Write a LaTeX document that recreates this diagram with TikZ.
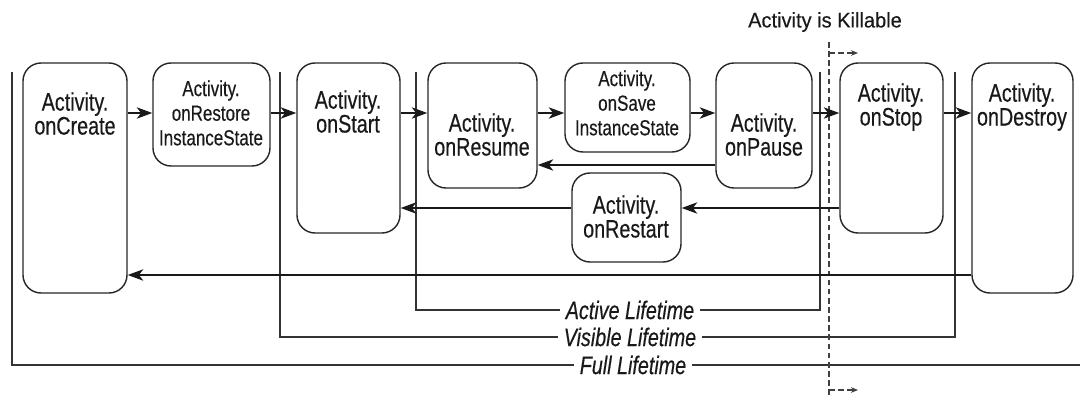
\documentclass[tikz,border=0pt]{standalone}
\usepackage{fontspec}
\setmainfont{Liberation Sans}[FakeStretch=0.78,FakeBold=0.4]
\newfontfamily\killfont{Liberation Sans}[FakeStretch=0.95,FakeBold=0.3]
\usetikzlibrary{arrows.meta,fit}

\begin{document}
\begin{tikzpicture}[x=0.025cm,y=-0.025cm,
    box/.style={draw=black!85,line width=1pt,rounded corners=0.45cm,inner sep=0pt},
    txt/.style={anchor=north,inner sep=0pt,align=center,text=black!90,font=\fontsize{18}{17}\selectfont},
    smalltxt/.style={anchor=north,inner sep=0pt,align=center,text=black!90,font=\fontsize{15.5}{17.5}\selectfont},
    flow/.style={line width=1.5pt,black!90,-{Stealth[length=11pt,width=8pt,inset=3pt]}},
    life/.style={line width=1pt,black!80},
    lifelbl/.style={fill=white,inner xsep=4pt,inner ysep=1pt,text=black!90,font=\fontsize{18}{18}\selectfont\itshape},
    kill/.style={line width=0.9pt,black!75,dash pattern=on 4pt off 2.5pt}]
    \useasboundingbox (0,0) rectangle (1080,400);

    % lifetimes
    \draw[life] (12,72) -- (12,365) -- (1080,365);
    \node[lifelbl] (Full) at (633,365) {Full Lifetime};
    \foreach \l/\r/\b/\name in {280/955/337/Visible, 416/820/310/Active} {
      \draw[life] (\l,72) -- (\l,\b) -- (\r,\b) -- (\r,72);
      \node[lifelbl] (\name) at (630,\b) {\name\ Lifetime};
    }

    % killable border
    \coordinate (killTop) at (829,42);
    \coordinate (killBot) at (829,395);
    \draw[kill] (killTop) -- (killBot);
    \draw[kill,-{Stealth[length=5pt,width=4pt]}] (829,53) -- (858,53);
    \draw[kill,-{Stealth[length=5pt,width=4pt]}] (829,390) -- (858,390);
    \node[text=black!90,font=\killfont\fontsize{15}{16}\selectfont] (killL) at (825,22) {Activity is Killable};

    % callbacks
    \node[box,fit={(23,63) (127,293)}] (create) {};
    \node[box,fit={(153,63) (270,166)}] (restore) {};
    \node[box,fit={(297,63) (400,233)}] (start) {};
    \node[box,fit={(428,63) (537,188)}] (resume) {};
    \node[box,fit={(565,63) (690,152)}] (save) {};
    \node[box,fit={(716,63) (812,188)}] (pause) {};
    \node[box,fit={(572,173) (681,262)}] (restart) {};
    \node[box,fit={(840,63) (943,233)}] (stop) {};
    \node[box,fit={(972,63) (1073,293)}] (destroy) {};

    \node[txt] (createT) at (75,92) {Activity.\\onCreate};
    \node[smalltxt] (restoreT) at (211,80) {Activity.\\onRestore\\InstanceState};
    \node[txt] (startT) at (348,90) {Activity.\\onStart};
    \node[txt] (resumeT) at (482,113) {Activity.\\onResume};
    \node[smalltxt] (saveT) at (627,70) {Activity.\\onSave\\InstanceState};
    \node[txt] (pauseT) at (764,113) {Activity.\\onPause};
    \node[txt] (restartT) at (626,195) {Activity.\\onRestart};
    \node[txt] (stopT) at (891,83) {Activity.\\onStop};
    \node[txt] (destroyT) at (1022,83) {Activity.\\onDestroy};

    % transitions
    \coordinate (rowA) at (0,113);
    \coordinate (rowB) at (0,165);
    \coordinate (rowC) at (0,208);
    \coordinate (rowD) at (0,275);
    \foreach \a/\b in {create/restore,restore/start,start/resume,resume/save,save/pause,pause/stop,stop/destroy}
      \draw[flow] (\a.east |- rowA) -- (\b.west |- rowA);
    \draw[flow] (pause.west |- rowB) -- (resume.east |- rowB);
    \draw[flow] (stop.west |- rowC) -- (restart.east |- rowC);
    \draw[flow] (restart.west |- rowC) -- (start.east |- rowC);
    \draw[flow] (destroy.west |- rowD) -- (create.east |- rowD);
\end{tikzpicture}
\end{document}
